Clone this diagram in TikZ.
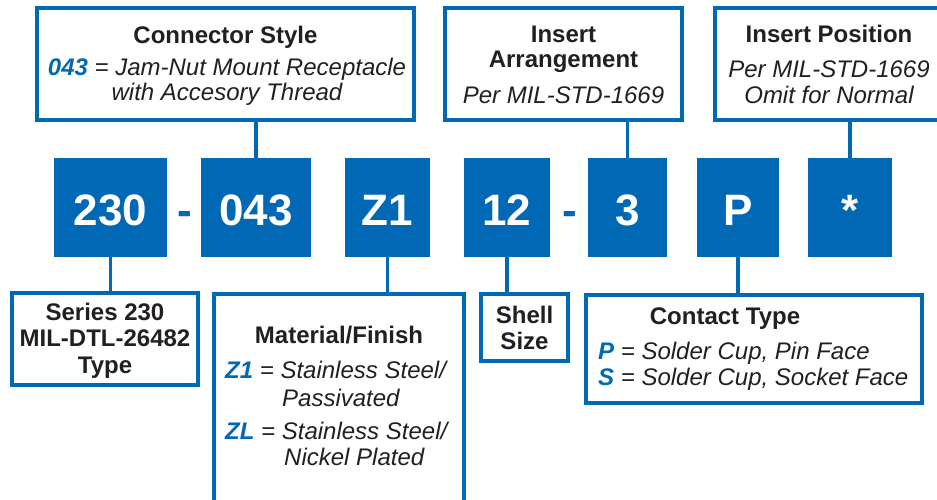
\documentclass[tikz,border=0pt]{standalone}
\usepackage{fontspec}
\setmainfont{Liberation Sans}
\definecolor{brandblue}{HTML}{0068B4}
\definecolor{ink}{HTML}{231F20}
\begin{document}
\begin{tikzpicture}[x=1pt,y=-1pt,
  obox/.style={draw=brandblue, line width=4pt, fill=white, inner sep=0pt},
  codebox/.style={fill=brandblue, inner sep=0pt, text=white,
    font=\fontsize{44}{44}\selectfont\bfseries, text height=35pt, text depth=0pt},
  hyph/.style={anchor=base, inner sep=0pt, text=brandblue,
    font=\fontsize{44}{44}\selectfont\bfseries},
  conn/.style={draw=brandblue, line width=3.5pt},
  ttl/.style={anchor=base, inner sep=0pt, text=ink, font=\fontsize{24}{24}\selectfont\bfseries},
  itl/.style={anchor=base, inner sep=0pt, text=ink, font=\fontsize{24}{24}\selectfont\itshape},
  itlw/.style={itl, anchor=base west},
  key/.style={text=brandblue, font=\fontsize{24}{24}\selectfont\bfseries\itshape}
]
\useasboundingbox (0,0) rectangle (937,499);

% code boxes
\node[codebox, minimum width=113pt, minimum height=99pt] (b230) at (110.5,207.5) {230};
\node[codebox, minimum width=110pt, minimum height=99pt] (b043) at (256,207.5) {043};
\node[codebox, minimum width=85pt, minimum height=99pt] (bz1) at (387.5,207.5) {Z1};
\node[codebox, minimum width=86pt, minimum height=99pt] (b12) at (507,207.5) {12};
\node[codebox, minimum width=79pt, minimum height=99pt] (b3) at (627.5,207.5) {3};
\node[codebox, minimum width=82pt, minimum height=99pt] (bp) at (738,207.5) {P};
\node[codebox, minimum width=84pt, minimum height=99pt] (bs) at (850,207.5) {*};
\node[hyph] (h1) at (184.5,225) {-};
\node[hyph] (h2) at (570,225) {-};

% description boxes
\node[obox, minimum width=377pt, minimum height=112pt] (cs) at (225.5,64) {};
\node[obox, minimum width=237pt, minimum height=112pt] (ia) at (563.5,64) {};
\node[obox, minimum width=236pt, minimum height=112pt] (ip) at (833,64) {};
\node[obox, minimum width=186pt, minimum height=92pt] (ser) at (105,339) {};
\node[obox, minimum width=250pt, minimum height=220pt] (mat) at (339,404) {};
\node[obox, minimum width=87pt, minimum height=67pt] (shell) at (524.5,327.5) {};
\node[obox, minimum width=336pt, minimum height=108pt] (ct) at (754,349) {};

% connectors
\draw[conn] (b043.north) -- (b043.north |- cs.south);
\draw[conn] (b3.north) -- (b3.north |- ia.south);
\draw[conn] (bs.north) -- (bs.north |- ip.south);
\draw[conn] (b230.south) -- (b230.south |- ser.north);
\draw[conn] (bz1.south) -- (bz1.south |- mat.north);
\draw[conn] (b12.south) -- (b12.south |- shell.north);
\draw[conn] (bp.south) -- (bp.south |- ct.north);

% texts: connector style
\node[ttl] (cst) at (225.5,43) {Connector Style};
\node[itl] (cs1) at (227,75.5) {{\fontsize{24}{24}\selectfont\bfseries\itshape\color{brandblue}043} = Jam-Nut Mount Receptacle};
\node[itl] (cs2) at (227,100.5) {with Accesory Thread};
% insert arrangement
\node[ttl] (iat1) at (563.5,42) {Insert};
\node[ttl] (iat2) at (563.5,67) {Arrangement};
\node[itl] (ia1) at (563.5,103) {Per MIL-STD-1669};
% insert position
\node[ttl] (ipt) at (829,42) {Insert Position};
\node[itl] (ip1) at (829,77) {Per MIL-STD-1669};
\node[itl] (ip2) at (829,103) {Omit for Normal};
% series
\node[ttl] (se1) at (105,320) {Series 230};
\node[ttl] (se2) at (105,346.5) {MIL-DTL-26482};
\node[ttl] (se3) at (105,373) {Type};
% material
\node[ttl] (mt) at (339,343) {Material/Finish};
\node[itlw] (m1) at (225,378) {{\fontsize{24}{24}\selectfont\bfseries\itshape\color{brandblue}Z1} = Stainless Steel/};
\node[itlw] (m2) at (282,406) {Passivated};
\node[itlw] (m3) at (225,439) {{\fontsize{24}{24}\selectfont\bfseries\itshape\color{brandblue}ZL} = Stainless Steel/};
\node[itlw] (m4) at (284,465) {Nickel Plated};
% shell
\node[ttl] (sh1) at (524.5,323) {Shell};
\node[ttl] (sh2) at (524.5,349) {Size};
% contact
\node[ttl] (ctt) at (725,324) {Contact Type};
\node[itlw] (c1) at (598,359) {{\fontsize{24}{24}\selectfont\bfseries\itshape\color{brandblue}P} = Solder Cup, Pin Face};
\node[itlw] (c2) at (598,385) {{\fontsize{24}{24}\selectfont\bfseries\itshape\color{brandblue}S} = Solder Cup, Socket Face};
\end{tikzpicture}
\end{document}
